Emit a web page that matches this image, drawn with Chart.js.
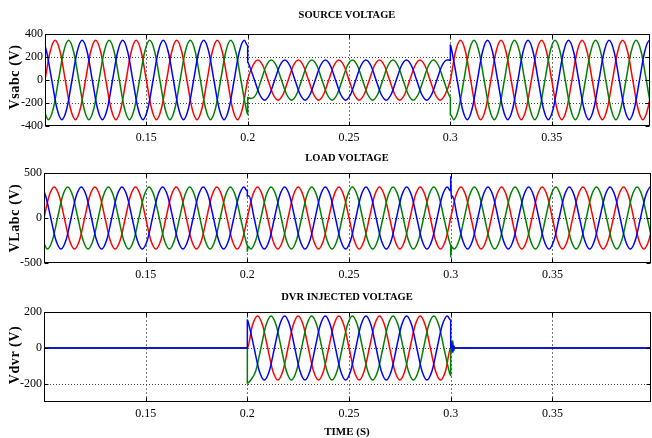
<!DOCTYPE html>
<html><head><meta charset="utf-8">
<script src="https://cdn.jsdelivr.net/npm/chart.js@4.4.1/dist/chart.umd.min.js"></script>
<style>
html,body{margin:0;padding:0;background:#fff;}
#wrap{position:relative;width:652px;height:438px;overflow:hidden;background:#fff;}
canvas{position:absolute;left:0;}
.t{position:absolute;font-family:"Liberation Serif",serif;font-weight:bold;white-space:nowrap;transform:translate(-50%,-50%);line-height:1;color:#000;}
.yl{position:absolute;font-family:"Liberation Serif",serif;font-weight:bold;white-space:nowrap;transform:translate(-50%,-50%) rotate(-90deg);line-height:1;font-size:14px;letter-spacing:0.6px;color:#000;}
</style></head>
<body><div id="wrap">
<canvas id="c1" width="652" height="145" style="top:0px;width:652px;height:145px"></canvas>
<canvas id="c2" width="652" height="140" style="top:145px;width:652px;height:140px"></canvas>
<canvas id="c3" width="652" height="153" style="top:285px;width:652px;height:153px"></canvas>
<div class="t" style="left:347px;top:14.5px;font-size:10.5px">SOURCE VOLTAGE</div>
<div class="t" style="left:347px;top:158px;font-size:10.5px">LOAD VOLTAGE</div>
<div class="t" style="left:347px;top:296.5px;font-size:10.5px">DVR INJECTED VOLTAGE</div>
<div class="t" style="left:347px;top:431px;font-size:11px">TIME (S)</div>
<div class="yl" style="left:15px;top:77px">Vsabc (V)</div>
<div class="yl" style="left:15px;top:218px">VLabc (V)</div>
<div class="yl" style="left:15px;top:355px">Vdvr (V)</div>
</div>
<script>
// ---- axes / ticks ----
const xTickValues = [0.15, 0.2, 0.25, 0.3, 0.35];
const xTickLabels = ['0.15', '0.2', '0.25', '0.3', '0.35'];
const srcYTicks = [400, 200, 0, -200, -400];
const loadYTicks = [500, 0, -500];
const dvrYTicks = [200, 0, -200];

// ---- sampling clock of the read traces: every 1/8 cycle (50 Hz) ----
const STEP = 0.0025;
const T_RED = 0.1;             // phase a sample start
const T_BLUE = 0.1 + 1/1200;   // phase b sample start
const T_GREEN = 0.1 - 1/1200;  // phase c sample start

// ---- SOURCE VOLTAGE (V), read every 1/8 cycle ----
const srcRed = [
  0,244,345,244,0,-244,-345,-244, 0,244,345,244,0,-244,-345,-244, 0,244,345,244,0,-244,-345,-244,
  0,244,345,244,0,-244,-345,-244, 0,244,345,244,0,-244,-345,-244,
  0,124,175,124,0,-124,-175,-124, 0,124,175,124,0,-124,-175,-124, 0,124,175,124,0,-124,-175,-124,
  0,124,175,124,0,-124,-175,-124, 0,124,175,124,0,-124,-175,-124,
  0,244,345,244,0,-244,-345,-244, 0,244,345,244,0,-244,-345,-244, 0,244,345,244,0,-244,-345,-244,
  0,244,345,244,0,-244,-345,-244, 0,244,345,244,0,-244,-345,-244, 0
];
const srcBlue = [
  244,0,-244,-345,-244,0,244,345, 244,0,-244,-345,-244,0,244,345, 244,0,-244,-345,-244,0,244,345,
  244,0,-244,-345,-244,0,244,345, 244,0,-244,-345,-244,0,244,345,
  124,0,-124,-175,-124,0,124,175, 124,0,-124,-175,-124,0,124,175, 124,0,-124,-175,-124,0,124,175,
  124,0,-124,-175,-124,0,124,175, 124,0,-124,-175,-124,0,124,175,
  244,0,-244,-345,-244,0,244,345, 244,0,-244,-345,-244,0,244,345, 244,0,-244,-345,-244,0,244,345,
  244,0,-244,-345,-244,0,244,345, 244,0,-244,-345,-244,0,244,345
];
const srcBlueExtra = [[0.1,299],[0.2,299],[0.2,155],[0.3,172],[0.3,305],[0.4,299]];
const srcGreen = [
  -244,-345,-244,0,244,345,244,0, -244,-345,-244,0,244,345,244,0, -244,-345,-244,0,244,345,244,0,
  -244,-345,-244,0,244,345,244,0, -244,-345,-244,0,244,345,244,0,
  -244,
  -160,-124,0,124,175,124,0,-124, -175,-124,0,124,175,124,0,-124, -175,-124,0,124,175,124,0,-124,
  -175,-124,0,124,175,124,0,-124, -175,-124,0,124,175,124,0,-124,
  -345,-244,0,244,345,244,0,-244, -345,-244,0,244,345,244,0,-244, -345,-244,0,244,345,244,0,-244,
  -345,-244,0,244,345,244,0,-244, -345,-244,0,244,345,244,0,-244,
  -345
];
const srcGreenExtra = [[0.2,-299],[0.2,-152],[0.3,-152],[0.3,-299]];

// ---- LOAD VOLTAGE (V) ----
const loadRed = [
  0,244,345,244,0,-244,-345,-244, 0,244,345,244,0,-244,-345,-244, 0,244,345,244,0,-244,-345,-244,
  0,244,345,244,0,-244,-345,-244, 0,244,345,244,0,-244,-345,-244,
  0,244,345,244,0,-244,-345,-244, 0,244,345,244,0,-244,-345,-244, 0,244,345,244,0,-244,-345,-244,
  0,244,345,244,0,-244,-345,-244, 0,244,345,244,0,-244,-345,-244,
  0,244,345,244,0,-244,-345,-244, 0,244,345,244,0,-244,-345,-244, 0,244,345,244,0,-244,-345,-244,
  0,244,345,244,0,-244,-345,-244, 0,244,345,244,0,-244,-345,-244, 0
];
const loadBlue = [
  244,0,-244,-345,-244,0,244,345, 244,0,-244,-345,-244,0,244,345, 244,0,-244,-345,-244,0,244,345,
  244,0,-244,-345,-244,0,244,345, 244,0,-244,-345,-244,0,244,345,
  244,0,-244,-345,-244,0,244,345, 244,0,-244,-345,-244,0,244,345, 244,0,-244,-345,-244,0,244,345,
  244,0,-244,-345,-244,0,244,345, 244,0,-244,-345,-244,0,244,345,
  244,0,-244,-345,-244,0,244,345, 244,0,-244,-345,-244,0,244,345, 244,0,-244,-345,-244,0,244,345,
  244,0,-244,-345,-244,0,244,345, 244,0,-244,-345,-244,0,244,345
];
const loadBlueExtra = [[0.1,299],[0.2,299],[0.2,245],[0.3,299],[0.3,455],[0.3003,215],[0.4,299]];
const loadGreen = [
  -244,-345,-244,0,244,345,244,0, -244,-345,-244,0,244,345,244,0, -244,-345,-244,0,244,345,244,0,
  -244,-345,-244,0,244,345,244,0, -244,-345,-244,0,244,345,244,0,
  -244,-345,-244,0,244,345,244,0, -244,-345,-244,0,244,345,244,0, -244,-345,-244,0,244,345,244,0,
  -244,-345,-244,0,244,345,244,0, -244,-345,-244,0,244,345,244,0,
  -244,-345,-244,0,244,345,244,0, -244,-345,-244,0,244,345,244,0, -244,-345,-244,0,244,345,244,0,
  -244,-345,-244,0,244,345,244,0, -244,-345,-244,0,244,345,244,0,
  -244,-345
];
const loadGreenExtra = [[0.2,-299],[0.2,-370],[0.2004,-315],[0.3,-299],[0.3,-430],[0.3004,-320]];

// ---- DVR INJECTED VOLTAGE (V): samples only during the sag, zero elsewhere ----
const T_DVR_RED = 0.2, T_DVR_BLUE = 0.2 + 1/1200, T_DVR_GREEN = 0.2 + 1/600;
const dvrRed = [
  0,126,178,126,0,-126,-178,-126, 0,126,178,126,0,-126,-178,-126, 0,126,178,126,0,-126,-178,-126,
  0,126,178,126,0,-126,-178,-126, 0,126,178,126,0,-126,-178,-126, 0
];
const dvrRedExtra = [[0.1,0],[0.4,0]];
const dvrBlue = [
  126,0,-126,-178,-126,0,126,178, 126,0,-126,-178,-126,0,126,178, 126,0,-126,-178,-126,0,126,178,
  126,0,-126,-178,-126,0,126,178, 126,0,-126,-178,-126,0,126,178
];
const dvrBlueExtra = [[0.1,0],[0.2,0],[0.2,155],[0.3,155],[0.3,0],[0.3005,30],[0.301,-25],[0.3015,12],[0.302,0],[0.4,0]];
const dvrGreen = [
  -178,-126,0,126,178,126,0,-126, -178,-126,0,126,178,126,0,-126, -178,-126,0,126,178,126,0,-126,
  -178,-126,0,126,178,126,0,-126, -178,-126,0,126,178,126,0,-126
];
const dvrGreenExtra = [[0.1,0],[0.2,0],[0.2,-195],[0.3,-154],[0.3,0],[0.3005,-20],[0.301,40],[0.3015,-15],[0.302,0],[0.4,0]];

// ---- build {x,y} point lists from the sampled values ----
function pts(t0, vals, extra) {
  const out = vals.map((v, k) => ({x: t0 + k * STEP, y: v, o: 0}));
  (extra || []).forEach((p, i) => out.push({x: p[0], y: p[1], o: 1 + i}));
  out.sort((a, b) => (a.x - b.x) || (a.o - b.o));
  return out.map(p => ({x: p.x, y: p.y}));
}

const RED = '#ff0000', GREEN = '#008000', BLUE = '#0000ff';

const framePlugin = {
  id: 'frame',
  beforeDatasetsDraw(chart, args, opts) {
    const {ctx, chartArea: a} = chart;
    const x = chart.scales.x, y = chart.scales.y;
    ctx.save();
    ctx.lineWidth = 1;
    ctx.strokeStyle = '#777';
    ctx.setLineDash([2, 2]);
    for (const v of xTickValues) {
      const px = Math.round(x.getPixelForValue(v)) + 0.5;
      ctx.beginPath(); ctx.moveTo(px, a.top); ctx.lineTo(px, a.bottom); ctx.stroke();
    }
    ctx.strokeStyle = '#444';
    ctx.setLineDash([1, 2]);
    for (const v of opts.yGrid) {
      const py = Math.round(y.getPixelForValue(v)) + 0.5;
      ctx.beginPath(); ctx.moveTo(a.left, py); ctx.lineTo(a.right, py); ctx.stroke();
    }
    ctx.restore();
  },
  afterDatasetsDraw(chart, args, opts) {
    const {ctx, chartArea: a} = chart;
    const x = chart.scales.x, y = chart.scales.y;
    ctx.save();
    ctx.strokeStyle = '#000';
    ctx.lineWidth = 1;
    const L = Math.round(a.left) + 0.5, R = Math.round(a.right) - 0.5;
    const T = Math.round(a.top) + 0.5, B = Math.round(a.bottom) - 0.5;
    ctx.strokeRect(L, T, R - L, B - T);
    const tl = 4;
    ctx.beginPath();
    for (const v of xTickValues) {
      const px = Math.round(x.getPixelForValue(v)) + 0.5;
      ctx.moveTo(px, B); ctx.lineTo(px, B - tl);
      ctx.moveTo(px, T); ctx.lineTo(px, T + tl);
    }
    for (const v of opts.yTicks) {
      const py = Math.round(y.getPixelForValue(v)) + 0.5;
      ctx.moveTo(L, py); ctx.lineTo(L + tl, py);
      ctx.moveTo(R, py); ctx.lineTo(R - tl, py);
    }
    ctx.stroke();
    ctx.restore();
  }
};

function makeChart(id, cfg) {
  const ds = (data, color) => ({data, borderColor: color, borderWidth: 1.5, pointRadius: 0, fill: false,
    cubicInterpolationMode: 'monotone'});
  return new Chart(document.getElementById(id), {
    type: 'line',
    data: {datasets: [ds(cfg.blue, BLUE), ds(cfg.green, GREEN), ds(cfg.red, RED)]},
    options: {
      responsive: false, animation: false, events: [],
      layout: {padding: {top: cfg.padTop, right: cfg.padRight, left: 0, bottom: 0}},
      plugins: {legend: {display: false}, tooltip: {enabled: false}, title: {display: false},
        frame: {yGrid: cfg.yGrid, yTicks: cfg.yTicks}},
      scales: {
        x: {type: 'linear', min: 0.1, max: 0.3985,
          grid: {display: false, drawTicks: false}, border: {display: false},
          ticks: {color: '#000', font: {family: 'Liberation Serif', size: 12}, padding: cfg.xPad,
            maxRotation: 0, autoSkip: false, callback: (v, i) => xTickLabels[i]},
          afterBuildTicks: s => { s.ticks = xTickValues.map(v => ({value: v})); },
          afterFit: s => { s.height = cfg.xH; }
        },
        y: {type: 'linear', min: cfg.yMin, max: cfg.yMax,
          grid: {display: false, drawTicks: false}, border: {display: false},
          ticks: {color: '#000', font: {family: 'Liberation Serif', size: 12}, padding: 2,
            autoSkip: false, callback: v => String(v)},
          afterBuildTicks: s => { s.ticks = cfg.yTicks.map(v => ({value: v})); },
          afterFit: s => { s.width = cfg.yW; }
        }
      }
    },
    plugins: [framePlugin]
  });
}

makeChart('c1', {
  red: pts(T_RED, srcRed), blue: pts(T_BLUE, srcBlue, srcBlueExtra), green: pts(T_GREEN, srcGreen, srcGreenExtra),
  yMin: -400, yMax: 400, yTicks: srcYTicks, yGrid: [200, 0, -200],
  padTop: 34, padRight: 2, yW: 45, xH: 19, xPad: 5
});
makeChart('c2', {
  red: pts(T_RED, loadRed), blue: pts(T_BLUE, loadBlue, loadBlueExtra), green: pts(T_GREEN, loadGreen, loadGreenExtra),
  yMin: -500, yMax: 500, yTicks: loadYTicks, yGrid: [0],
  padTop: 28, padRight: 1, yW: 44, xH: 22, xPad: 5
});
makeChart('c3', {
  red: pts(T_DVR_RED, dvrRed, dvrRedExtra), blue: pts(T_DVR_BLUE, dvrBlue, dvrBlueExtra), green: pts(T_DVR_GREEN, dvrGreen, dvrGreenExtra),
  yMin: -300, yMax: 200, yTicks: dvrYTicks, yGrid: [0, -200],
  padTop: 27, padRight: 1, yW: 44, xH: 36, xPad: 5
});
</script>
</body></html>
